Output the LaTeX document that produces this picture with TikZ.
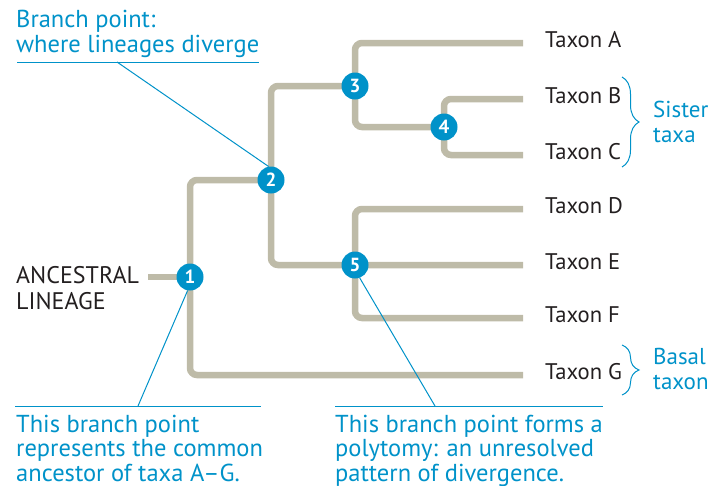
\documentclass[tikz,border=0pt]{standalone}
\usepackage{fontspec}
\setmainfont{PT Sans}
\usetikzlibrary{decorations.pathreplacing,backgrounds}
\definecolor{cblue}{RGB}{0,146,201}
\definecolor{branchgray}{RGB}{190,187,168}
\definecolor{txt}{RGB}{35,31,32}
\begin{document}
\begin{tikzpicture}[x=1pt,y=-1pt,
  branch/.style={draw=branchgray,line width=6.5pt,rounded corners=7pt},
  bp/.style={circle,fill=cblue,minimum size=27pt,inner sep=0pt,text=white,font=\fontsize{19}{19}\selectfont\bfseries},
  taxon/.style={anchor=base west,inner sep=0pt,text=txt,font=\fontsize{22.6}{26}\selectfont},
  note/.style={anchor=base west,inner sep=0pt,text=cblue,align=left,font=\fontsize{24.5}{24.5}\selectfont},
  leader/.style={draw=cblue,line width=1pt},
  bracestyle/.style={draw=cblue,line width=1pt,decorate,decoration={brace,amplitude=17pt}},
]
\useasboundingbox (0,0) rectangle (717,485);

% branch points
\node[bp] (n1) at (190,277) {1};
\node[bp] (n2) at (271,180) {2};
\node[bp] (n3) at (355,86) {3};
\node[bp] (n4) at (444,127) {4};
\node[bp] (n5) at (355,265) {5};

% branch ends
\coordinate (eA) at (523,43);
\coordinate (eB) at (523,99);
\coordinate (eC) at (523,155);
\coordinate (eD) at (523,209);
\coordinate (eE) at (523,265);
\coordinate (eF) at (523,318);
\coordinate (eG) at (523,375);
\coordinate (root) at (148,277);

% taxa
\node[taxon] (tA) at (545,47) {Taxon A};
\node[taxon] (tB) at (545,103) {Taxon B};
\node[taxon] (tC) at (545,159) {Taxon C};
\node[taxon] (tD) at (545,213) {Taxon D};
\node[taxon] (tE) at (545,269) {Taxon E};
\node[taxon] (tF) at (545,322) {Taxon F};
\node[taxon] (tG) at (545,379) {Taxon G};

\node[taxon,align=left,font=\fontsize{24}{26}\selectfont] (anc) at (16,309) {ANCESTRAL\\LINEAGE};

\begin{scope}[on background layer]
\draw[branch,rounded corners=0pt] (root) -- (n1.center);
\draw[branch] (n2.center) -| (n1.center) |- (eG);
\draw[branch] (n3.center) -| (n2.center) |- (n5.center) -- (eE);
\draw[branch] (eA) -| (n3.center) |- (n4.center);
\draw[branch] (eB) -| (n4.center) |- (eC);
\draw[branch] (eD) -| (n5.center) |- (eF);
\end{scope}

% braces
\draw[bracestyle] (622,77) -- (622,167);
\draw[bracestyle] (622,345) -- (622,395);
\node[note,font=\fontsize{23}{25}\selectfont] (sister) at (653,142) {Sister\\taxa};
\node[note,font=\fontsize{23}{24.5}\selectfont] (basal) at (653,389) {Basal\\taxon};

% callouts
\node[note,font=\fontsize{24.5}{25}\selectfont] (c2) at (16,52) {Branch point:\\where lineages diverge};
\draw[leader] (17,62) -- (259,62);
\coordinate (l2) at (117,62);
\draw[leader] (l2) -- (n2.100);

\node[note] (c1) at (16,481) {This branch point\\represents the common\\ancestor of taxa A--G.};
\draw[leader] (15,406) -- (261,406);
\coordinate (l1) at (138,406);
\draw[leader] (l1) -- (n1.-100);

\node[note] (c5) at (335,481) {This branch point forms a\\polytomy: an unresolved\\pattern of divergence.};
\draw[leader] (335,406) -- (603,406);
\coordinate (l5) at (435,406);
\draw[leader] (l5) -- (n5.-70);
\end{tikzpicture}
\end{document}
